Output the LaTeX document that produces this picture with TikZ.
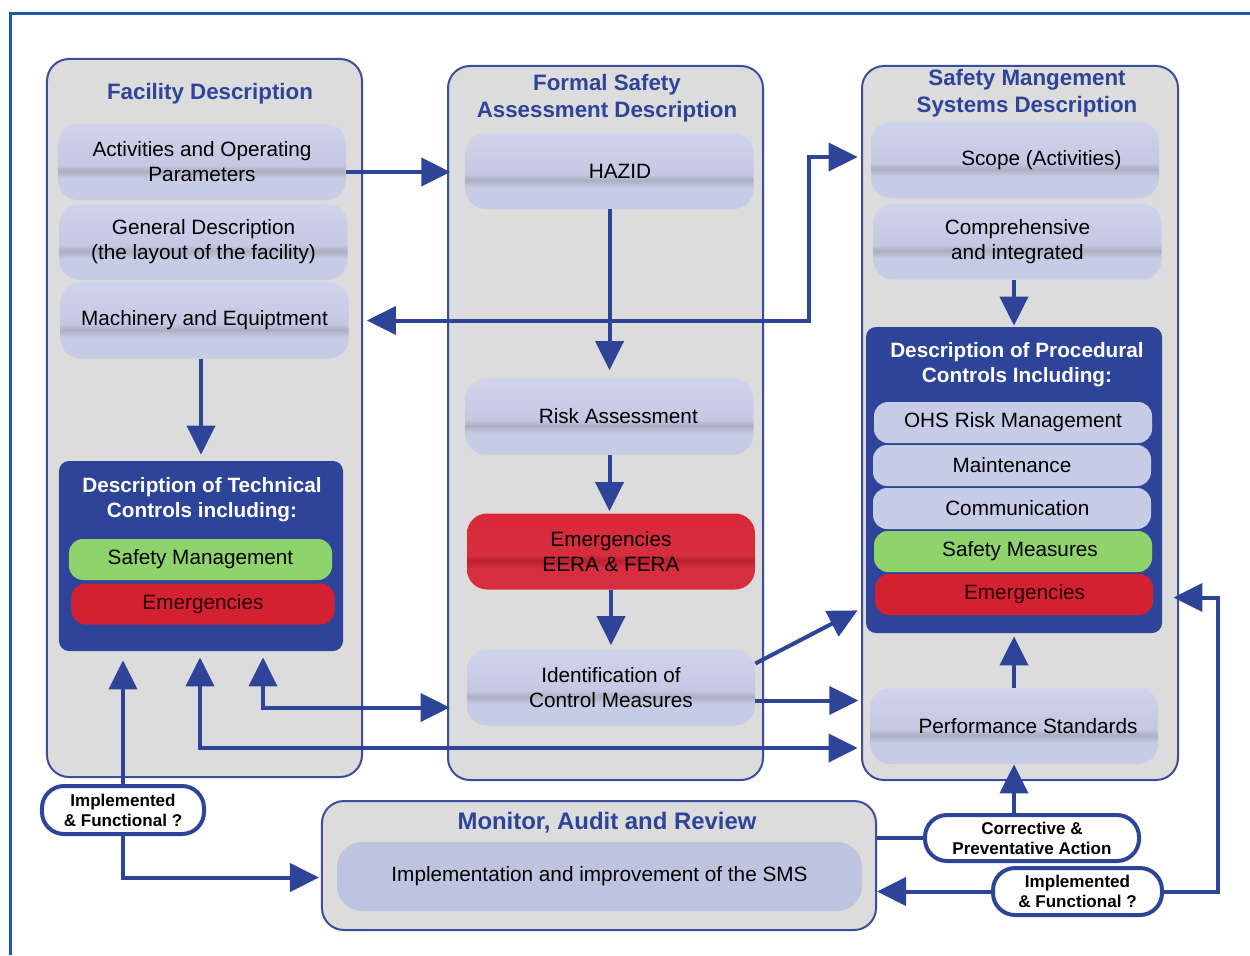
\documentclass[tikz,border=0pt]{standalone}
\usepackage{fontspec}
\setmainfont{Liberation Sans}
\usetikzlibrary{arrows.meta,calc}
\definecolor{sysblue}{RGB}{46,68,152}
\definecolor{framblue}{RGB}{30,90,170}
\definecolor{panelgray}{RGB}{220,220,220}
\definecolor{panelline}{RGB}{60,78,155}
\definecolor{lavtop}{RGB}{207,211,235}
\definecolor{lavmid}{RGB}{196,200,226}
\definecolor{lavband}{RGB}{172,175,194}
\definecolor{lavlow}{RGB}{199,204,230}
\definecolor{barlav}{RGB}{198,203,230}
\definecolor{smslav}{RGB}{190,196,224}
\definecolor{okgreen}{RGB}{142,211,108}
\definecolor{alertred}{RGB}{212,33,50}
\definecolor{redtop}{RGB}{218,40,58}
\definecolor{redband}{RGB}{186,32,46}
\definecolor{redlow}{RGB}{214,46,62}
\pgfdeclareverticalshading{glass}{100bp}{color(0bp)=(lavlow); color(25bp)=(lavlow); color(39bp)=(lavlow); color(44bp)=(lavband); color(48bp)=(lavmid); color(75bp)=(lavtop); color(100bp)=(lavtop)}
\pgfdeclareverticalshading{redglass}{100bp}{color(0bp)=(redlow); color(25bp)=(redlow); color(39bp)=(redlow); color(44bp)=(redband); color(48bp)=(redlow); color(75bp)=(redtop); color(100bp)=(redtop)}
\newcommand\itemfont{\fontsize{11.8}{14.2}\selectfont}
\newcommand\headfont{\bfseries\fontsize{12.7}{15.3}\selectfont}
\newcommand\ctrlfont{\bfseries\fontsize{11.8}{14.2}\selectfont}
\newcommand\tagfont{\bfseries\fontsize{9.7}{11.3}\selectfont}
\newcommand\marfont{\bfseries\fontsize{13.6}{16}\selectfont}
\begin{document}
\begin{tikzpicture}[x=0.2mm,y=-0.2mm,>={Triangle[length=5.8mm,width=5.6mm]},
  panel/.style={draw=panelline,line width=0.4mm,fill=panelgray,rounded corners=4.4mm,inner sep=0pt},
  head/.style={text=sysblue,font=\headfont,align=center},
  item/.style={shading=glass,rounded corners=4mm,minimum width=57.6mm,minimum height=15.2mm,inner sep=0pt,align=center,font=\itemfont},
  ctrl/.style={fill=sysblue,rounded corners=2mm,inner sep=0pt},
  ctrltext/.style={text=white,font=\ctrlfont,align=center},
  bar/.style={fill=barlav,rounded corners=2.8mm,minimum width=52.6mm,minimum height=8.2mm,inner sep=0pt,font=\itemfont},
  tag/.style={draw=sysblue,line width=0.8mm,fill=white,rounded corners=4.4mm,inner sep=0pt,align=center,font=\tagfont},
  link/.style={draw=sysblue,line width=0.8mm}]
  \useasboundingbox (0,0) rectangle (1250,955);
  \draw[framblue,line width=0.6mm] (10,955) -- (10,13) -- (1250,13);

  \node[panel,minimum width=63mm,minimum height=143.6mm] (fac) at (204.5,418) {};
  \node[panel,minimum width=63mm,minimum height=142.8mm] (fsa) at (605.5,423) {};
  \node[panel,minimum width=63.2mm,minimum height=142.8mm] (sms) at (1020,423) {};
  \node[panel,minimum width=110.8mm,minimum height=25.8mm] (mar) at (599,865.5) {};

  \node[head] (factitle) at (210,94) {Facility Description};
  \node[head] (fsatitle) at (607,98.5) {Formal Safety\\Assessment Description};
  \node[head] (smstitle) at (1027,93.5) {Safety Mangement\\Systems Description};
  \node[head,font=\marfont] (martitle) at (607,823) {Monitor, Audit and Review};

  \node[item] (act) at (202,162) {Activities and Operating\\Parameters};
  \node[item] (gen) at (203.5,242) {General Description\\(the layout of the facility)};
  \node[item] (mach) at (204.5,320.5) {Machinery and Equiptment};
  \node[item] (hazid) at (609.5,171) {\hspace*{12pt}HAZID};
  \node[item] (risk) at (609.5,416.5) {\hspace*{10pt}Risk Assessment};
  \node[item,shading=redglass] (emer) at (611,551.5) {Emergencies\\EERA \& FERA};
  \node[item] (ident) at (611,687.5) {Identification of\\Control Measures};
  \node[item] (scope) at (1015,160) {\hspace*{30pt}Scope (Activities)};
  \node[item] (compr) at (1017.5,241.5) {Comprehensive\\and integrated};
  \node[item] (perf) at (1014,726) {\hspace*{16pt}Performance Standards};

  \node[ctrl,minimum width=56.8mm,minimum height=38mm] (tech) at (201,556) {};
  \node[ctrltext] (techtitle) at (202,499.5) {Description of Technical\\Controls including:};
  \node[bar,fill=okgreen] (safemgmt) at (200.5,559.5) {Safety Management};
  \node[bar,fill=alertred,text=black!85!red] (emtech) at (203,604) {Emergencies};

  \node[ctrl,minimum width=59.2mm,minimum height=61.2mm] (proc) at (1014,480) {};
  \node[ctrltext] (proctitle) at (1017,364.5) {Description of Procedural\\Controls Including:};
  \node[bar,minimum width=55.6mm] (ohs) at (1013,422.5) {OHS Risk Management};
  \node[bar,minimum width=55.6mm] (maint) at (1012,465.5) {Maintenance};
  \node[bar,minimum width=55.6mm] (comm) at (1012,508.5) {\hspace*{6pt}Communication};
  \node[bar,minimum width=55.6mm,fill=okgreen] (safemeas) at (1013,551.5) {\hspace*{8pt}Safety Measures};
  \node[bar,minimum width=55.6mm,fill=alertred,text=black!85!red] (emproc) at (1014,594.5) {\hspace*{12pt}Emergencies};

  \node[fill=smslav,rounded corners=5mm,minimum width=105mm,minimum height=13.8mm,font=\itemfont] (smsbox) at (599.5,876.5) {Implementation and improvement of the SMS};

  \node[tag,minimum width=32.4mm,minimum height=9.6mm] (impl1) at (123,810) {Implemented\\\& Functional ?};
  \node[tag,minimum width=42.8mm,minimum height=9.2mm] (corr) at (1032,838) {Corrective \&\\Preventative Action};
  \node[tag,minimum width=33.8mm,minimum height=9.4mm] (impl2) at (1077.5,891.5) {Implemented\\\& Functional ?};

  \draw[link,->] ($(act.east)+(0,10)$) -- ++(104,0);
  \draw[link,<->] ($(mach.east)+(18,0)$) -- ++(442,0) |- ($(scope.west)+(-13,-3)$);
  \draw[link,->] (hazid.south) -- ($(risk.north)+(0,-8)$);
  \draw[link,->] (mach.south -| tech.north) -- ($(tech.north)+(0,-6)$);
  \draw[link,->] (risk.south) -- ($(risk.south |- emer.north)+(0,-2)$);
  \draw[link,->] (emer.south) -- ($(ident.north)+(0,-4)$);
  \draw[link,->] ($(ident.east)+(0,-24)$) -- ($(proc.south west)+(-8,-23)$);
  \draw[link,->] ($(ident.east)+(0,13)$) -- ++(103,0);
  \draw[link,<->] ($(tech.south)+(62,6)$) |- ($(ident.west)+(-17,20)$);
  \draw[link,<->] ($(tech.south)+(-1,6)$) |- ($(perf.west)+(-12,22)$);
  \draw[link,->] (compr.south -| proc.north) -- ($(proc.north)+(0,-1)$);
  \draw[link,->] (impl1.north) -- ($(tech.south -| impl1.north)+(0,9)$);
  \draw[link,->] (impl1.south) |- ($(mar.west)+(-2,12)$);
  \draw[link,->] (perf.north) -- ($(proc.south)+(0,3)$);
  \draw[link] (mar.east |- corr.west) -- (corr.west);
  \draw[link,->] (corr.north -| perf.south) -- (perf.south);
  \draw[link,->] (impl2.east) -| ($(emproc.east)+(65,3)$) -- ($(emproc.east)+(20,3)$);
  \draw[link,->] (impl2.west) -- (impl2.west -| mar.east);
\end{tikzpicture}
\end{document}
